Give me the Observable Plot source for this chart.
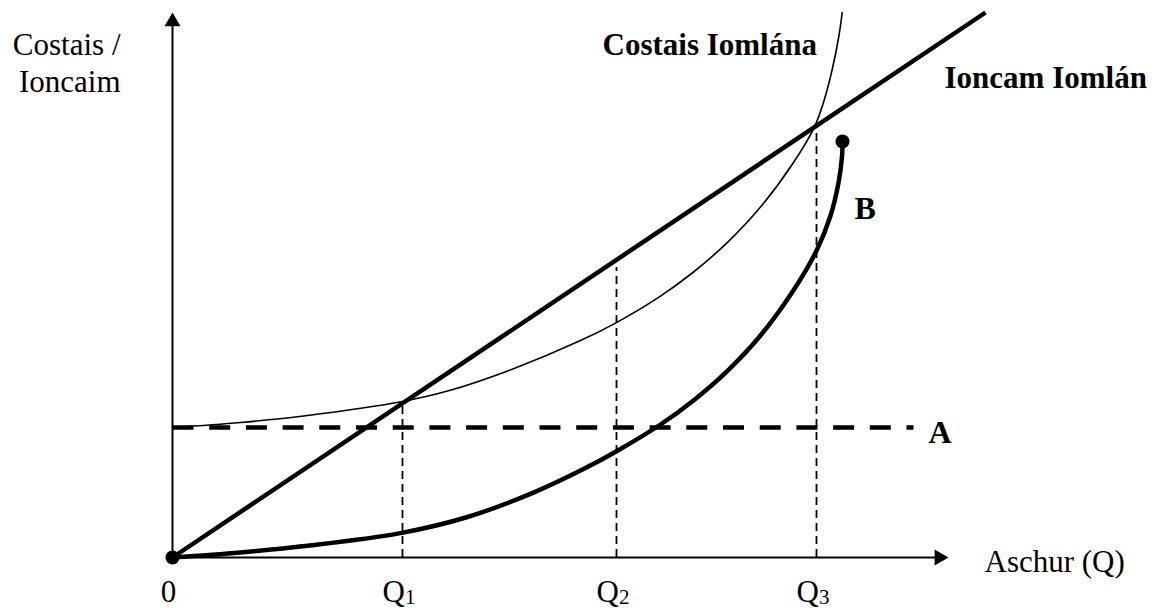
<!DOCTYPE html>
<html><head><meta charset="utf-8">
<script src="https://cdn.jsdelivr.net/npm/d3@7"></script>
<script src="https://cdn.jsdelivr.net/npm/@observablehq/plot@0.6"></script>
<style>html,body{margin:0;padding:0;background:#fff;}</style>
</head><body><div id="chart"></div>
<script>
// ---- data ----
const revenueQ = [0, 81.3];
const revenueV = [0, 54.5];
const fixedCostQ = [0, 74.1];
const fixedCost = 13.0;
const totalCostQ = [0, 6.8, 13.5, 23.0, 27.5, 34.1, 40.8, 44.3, 48.8, 52.1, 55.5, 58.8, 62.1, 64.2, 65.1, 65.97, 66.63, 66.97];
const totalCostV = [13.0, 13.5, 14.2, 15.6, 16.64, 18.88, 21.69, 23.44, 26.14, 28.55, 31.51, 35.04, 39.5, 43.07, 45.5, 48.8, 52.1, 54.5];
const variableCostQ = [0, 6.8, 13.5, 22.8, 29.5, 36.1, 41.1, 44.5, 48.8, 52.1, 55.5, 58.8, 62.1, 64.4, 65.8, 66.6, 66.95, 67.0];
const variableCostV = [0, 0.51, 1.18, 2.44, 4.05, 6.49, 8.84, 10.68, 13.3, 15.71, 18.67, 22.2, 26.72, 30.68, 34.18, 37.46, 40.09, 41.6];
const qNames = ["Q", "Q", "Q"];
const qSubs = ["1", "2", "3"];
const qPos = [23.0, 44.4, 64.4];
const qTop = [15.4, 29.0, 43.3];
const xAxisEnd = 77.6;
const yAxisEnd = 54.5;

// ---- tables built from the arrays ----
const rev = revenueQ.map((q, i) => ({q, v: revenueV[i]}));
const tc = totalCostQ.map((q, i) => ({q, v: totalCostV[i]}));
const vc = variableCostQ.map((q, i) => ({q, v: variableCostV[i]}));
const fc = fixedCostQ.map(q => ({q, v: fixedCost}));
const qs = qPos.map((q, i) => ({q, top: qTop[i], name: qNames[i], sub: qSubs[i]}));
const vcEnd = vc[vc.length - 1];

const font = "Liberation Serif, Times New Roman, serif";

const chart = Plot.plot({
  width: 1160,
  height: 608,
  marginLeft: 172,
  marginRight: 0,
  marginTop: 0,
  marginBottom: 51,
  x: {domain: [0, 98.8], axis: null},
  y: {domain: [0, 55.7], axis: null},
  style: {fontFamily: font, background: "white", color: "black", overflow: "visible"},
  marks: [
    // axes
    Plot.ruleY([0], {x1: 0, x2: xAxisEnd - 1, stroke: "black", strokeWidth: 2}),
    Plot.ruleX([0], {y1: 0, y2: yAxisEnd - 1, stroke: "black", strokeWidth: 2}),
    Plot.dot([{x: 0, y: yAxisEnd}], {x: "x", y: "y", symbol: "triangle", r: 5.94, fill: "black", stroke: null, dy: 9.24}),
    Plot.dot([{x: xAxisEnd, y: 0}], {x: "x", y: "y", symbol: "triangle", r: 5.94, fill: "black", stroke: null, rotate: 90, dx: -9.24}),
    // Q guide lines
    Plot.ruleX(qs, {x: "q", y1: 0, y2: "top", stroke: "black", strokeWidth: 1.8, strokeDasharray: "8,5", strokeLinecap: "butt"}),
    // fixed cost A
    Plot.line(fc, {x: "q", y: "v", stroke: "black", strokeWidth: 4.5, strokeDasharray: "21,15.7", strokeLinecap: "butt"}),
    // total cost (thin)
    Plot.line(tc, {x: "q", y: "v", stroke: "black", strokeWidth: 1.6, curve: "catmull-rom"}),
    // variable cost B (thick)
    Plot.line(vc, {x: "q", y: "v", stroke: "black", strokeWidth: 4.5, curve: "catmull-rom"}),
    // total revenue
    Plot.line(rev, {x: "q", y: "v", stroke: "black", strokeWidth: 4.5, strokeLinecap: "butt"}),
    // dots
    Plot.dot([{q: 0, v: 0}, vcEnd], {x: "q", y: "v", r: 7, fill: "black", stroke: null}),
    // labels
    Plot.text(["Costais /"], {x: -5.2, y: 50.3, text: d => d, textAnchor: "end", lineAnchor: "bottom", fontSize: 31}),
    Plot.text(["Ioncaim"], {x: -5.2, y: 46.6, text: d => d, textAnchor: "end", lineAnchor: "bottom", fontSize: 31}),
    Plot.text(["Costais Iomlána"], {x: 43.0, y: 50.25, text: d => d, textAnchor: "start", lineAnchor: "bottom", fontSize: 31, fontWeight: "bold"}),
    Plot.text(["Ioncam Iomlán"], {x: 77.2, y: 47.0, text: d => d, textAnchor: "start", lineAnchor: "bottom", fontSize: 31, fontWeight: "bold"}),
    Plot.text(["A"], {x: 75.6, y: 11.45, text: d => d, textAnchor: "start", lineAnchor: "bottom", fontSize: 32, fontWeight: "bold"}),
    Plot.text(["B"], {x: 68.2, y: 33.85, text: d => d, textAnchor: "start", lineAnchor: "bottom", fontSize: 32, fontWeight: "bold"}),
    Plot.text(["Aschur (Q)"], {x: 81.2, y: -1.45, text: d => d, textAnchor: "start", lineAnchor: "bottom", fontSize: 31}),
    Plot.text(["0"], {x: -0.4, y: -4.4, text: d => d, textAnchor: "middle", lineAnchor: "bottom", fontSize: 31}),
    Plot.text(qs, {x: "q", y: -4.4, text: "name", textAnchor: "start", lineAnchor: "bottom", fontSize: 31, dx: -20}),
    Plot.text(qs, {x: "q", y: -4.4, text: "sub", textAnchor: "start", lineAnchor: "bottom", fontSize: 21, dx: 2.5, dy: 2})
  ]
});
document.getElementById("chart").appendChild(chart);
</script>
</body></html>
